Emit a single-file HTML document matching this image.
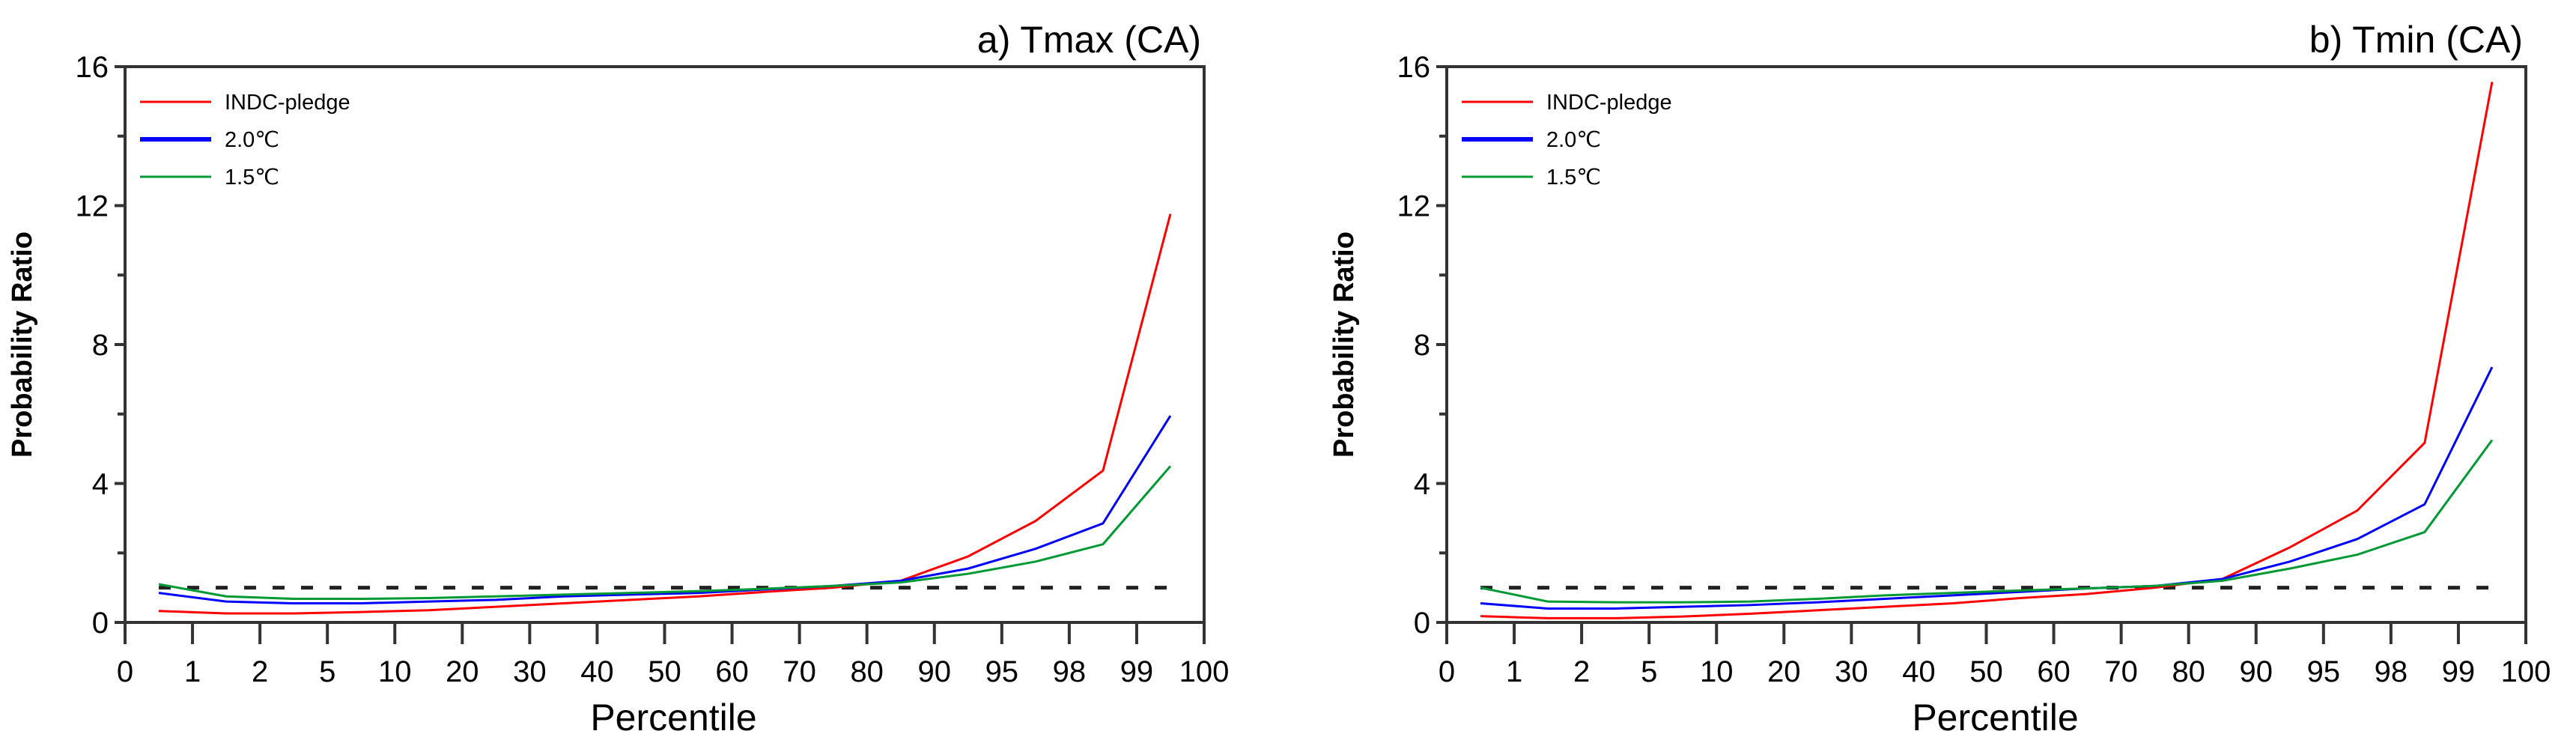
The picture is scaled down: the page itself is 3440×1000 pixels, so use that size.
<!DOCTYPE html>
<html><head><meta charset="utf-8">
<style>
html,body{margin:0;padding:0;background:#fff;}
svg{display:block;}
text{font-family:"Liberation Sans",sans-serif;fill:#000;}
</style></head>
<body>
<svg id="fig" width="3440" height="1000" viewBox="0 0 3440 1000" xmlns="http://www.w3.org/2000/svg"></svg>
<script>
const categories = ["0","1","2","5","10","20","30","40","50","60","70","80","90","95","98","99","100"];
const yTicks = [0,4,8,12,16];
const seriesNames = ["INDC-pledge","2.0\u2103","1.5\u2103"];
const tmaxIndc = [0.33,0.26,0.26,0.3,0.35,0.45,0.55,0.65,0.75,0.88,1.0,1.2,1.9,2.92,4.37,11.76];
const tmax20 = [0.85,0.6,0.55,0.55,0.6,0.65,0.75,0.8,0.85,0.95,1.05,1.2,1.55,2.12,2.85,5.95];
const tmax15 = [1.1,0.75,0.68,0.68,0.7,0.75,0.8,0.85,0.9,0.97,1.05,1.15,1.4,1.75,2.25,4.5];
const tminIndc = [0.18,0.12,0.12,0.17,0.25,0.35,0.45,0.55,0.7,0.82,1.0,1.25,2.16,3.22,5.17,15.56];
const tmin20 = [0.55,0.4,0.4,0.45,0.5,0.58,0.68,0.78,0.88,0.98,1.05,1.25,1.75,2.4,3.4,7.35];
const tmin15 = [1.0,0.6,0.58,0.58,0.6,0.68,0.78,0.85,0.92,0.98,1.05,1.2,1.55,1.95,2.6,5.25];
const refLine = 1.0;

const NS="http://www.w3.org/2000/svg";
const svg=document.getElementById('fig');
function mk(tag,attrs,parent){const e=document.createElementNS(NS,tag);for(const k in attrs)e.setAttribute(k,attrs[k]);(parent||svg).appendChild(e);return e;}

const colors=["#ff0000","#0000ff","#009933"];
const widths=[3,3,3];
const legWidths=[3,6,3];

function panel(left,title,data,key){
  const right=left+1441, top=89, bottom=831;
  const g=mk('g',{});
  
  
  const xs=i=>left+(right-left)*i/(categories.length-1);
  const ys=v=>bottom-(bottom-top)*v/16;
  const dl=mk('line',{x1:xs(0.5),x2:xs(15.5),y1:ys(refLine),y2:ys(refLine),stroke:'#222','stroke-width':5,'stroke-dasharray':'16 22'},g);
  
  
  data.forEach((arr,s)=>{
    const pts=arr.map((v,i)=>xs(i+0.5)+','+ys(v)).join(' ');
    const pl=mk('polyline',{points:pts,fill:'none',stroke:colors[s],'stroke-width':widths[s],'stroke-linejoin':'miter'},g);
    
    
  });
  const fr=mk('rect',{x:left,y:top,width:right-left,height:bottom-top,fill:'none',stroke:'#333','stroke-width':4},g);
  
  
  categories.forEach((c,i)=>{
    mk('line',{x1:xs(i),x2:xs(i),y1:bottom,y2:860,stroke:'#333','stroke-width':4},g);
    const t=mk('text',{x:xs(i),y:910,'font-size':40,'text-anchor':'middle'},g);
    t.textContent=c;
    
    
  });
  for(let v=0;v<=16;v+=2){
    mk('line',{x1:left-(v%4===0?14:10),x2:left,y1:ys(v),y2:ys(v),stroke:'#333','stroke-width':4},g);
  }
  yTicks.forEach(v=>{
    const t=mk('text',{x:left-22,y:ys(v)+14,'font-size':40,'text-anchor':'end'},g);
    t.textContent=v;
    
    
  });
  seriesNames.forEach((n,s)=>{
    const ly=136+50*s;
    mk('line',{x1:left+20,x2:left+115,y1:ly,y2:ly,stroke:colors[s],'stroke-width':legWidths[s]},g);
    const t=mk('text',{x:left+133,y:ly+10,'font-size':29},g);
    t.textContent=n;
    
    
  });
  const tt=mk('text',{x:right-4,y:70,'font-size':50,'text-anchor':'end'},g);
  tt.textContent=title;
  
  
  const xl=mk('text',{x:(left+right)/2+12,y:975,'font-size':50,'text-anchor':'middle'},g);
  xl.textContent='Percentile';
  
  
  const yx=left-125, yy=(top+bottom)/2;
  const yl=mk('text',{x:yx,y:yy,'font-size':38,'font-weight':'bold','text-anchor':'middle','font-family':'DejaVu Sans, sans-serif',transform:`rotate(-90 ${yx} ${yy})`},g);
  yl.textContent='Probability Ratio';
  
  
}
panel(167,'a) Tmax (CA)',[tmaxIndc,tmax20,tmax15],'tmax');
panel(1932,'b) Tmin (CA)',[tminIndc,tmin20,tmin15],'tmin');
</script>
</body></html>
